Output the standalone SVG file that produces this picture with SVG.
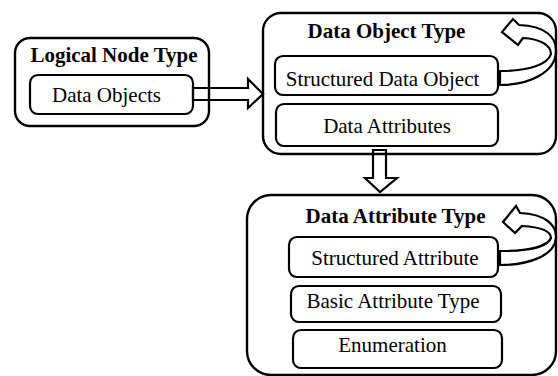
<svg xmlns="http://www.w3.org/2000/svg" width="558" height="376" viewBox="0 0 558 376">
<style>
.outer{fill:none;stroke:#000;stroke-width:2.4}
.inner{fill:none;stroke:#000;stroke-width:2.2}
.t{font-family:'Liberation Serif','DejaVu Serif',serif;font-size:21px;fill:#000;text-anchor:middle}
.b{font-weight:bold}
.arr{fill:none;stroke:#000;stroke-width:2.2;stroke-linejoin:miter}
</style>
<rect width="558" height="376" fill="#fff"/>
<g id="logical-node-type">
<rect class="outer" x="15" y="38" width="194" height="88" rx="15"/>
<text class="t b" x="114" y="62">Logical Node Type</text>
<rect class="inner" x="30" y="75" width="163" height="39" rx="8"/>
<text class="t" x="106.5" y="102">Data Objects</text>
</g>
<g id="data-object-type">
<rect class="outer" x="263" y="13" width="293" height="141" rx="18"/>
<text class="t b" x="386.5" y="38">Data Object Type</text>
<rect class="inner" x="275" y="56" width="223" height="39" rx="8"/>
<text class="t" x="382.5" y="86">Structured Data Object</text>
<rect class="inner" x="276" y="104" width="222" height="42" rx="8"/>
<text class="t" x="387" y="133">Data Attributes</text>
</g>
<g id="data-attribute-type">
<rect class="outer" x="247" y="195" width="309" height="180" rx="24"/>
<text class="t b" x="395.5" y="223">Data Attribute Type</text>
<rect class="inner" x="289" y="237" width="209" height="40" rx="8"/>
<text class="t" x="395" y="265">Structured Attribute</text>
<rect class="inner" x="291" y="286" width="210" height="36" rx="8"/>
<text class="t" x="393" y="308">Basic Attribute Type</text>
<rect class="inner" x="293" y="330" width="209" height="38" rx="8"/>
<text class="t" x="392.5" y="352">Enumeration</text>
</g>
<g id="connectors">
<path class="arr" d="M193,88 L248,88 L248,79 L263,94 L248,108 L248,100 L193,100 Z"/>
<path class="arr" d="M373,150 L386,150 L386,178 L397,178 L380,192 L365,178 L373,178 Z"/>
<path class="arr" d="M500,71 C530,71 548,64 551,54 C551,45 540,39 523,38 L518,45 L502,32 L513,19 L519,25 C545,26 557,37 556,52 C555,72 530,85 500,85 Z"/>
<path class="arr" d="M500,251 C530,251 548,246 551,238 C551,231 540,227 522,226 L515,233 L503,222 L516,206 L520,213 C545,214 557,225 556,238 C555,255 530,265 500,265 Z"/>
</g>
</svg>
